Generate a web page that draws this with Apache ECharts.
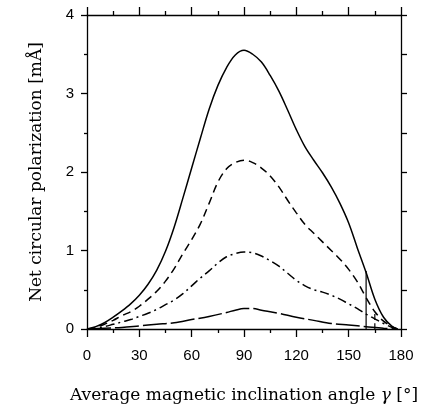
<!DOCTYPE html>
<html>
<head>
<meta charset="utf-8">
<script src="https://cdn.jsdelivr.net/npm/echarts@6/dist/echarts.min.js"></script>
<style>
  html, body { margin: 0; padding: 0; background: #fff; }
  #chart { width: 422px; height: 412px; }
</style>
</head>
<body>
<div id="chart"></div>
<script>
// curves: [angle, polarization]
const strongest = [[0,0],[5,0.03],[10,0.08],[15,0.15],[20,0.23],[25,0.32],[30,0.43],[35,0.57],[40,0.75],[45,0.99],[50,1.3],[55,1.67],[60,2.05],[65,2.43],[70,2.8],[75,3.1],[80,3.33],[85,3.49],[90,3.55],[95,3.5],[100,3.4],[105,3.23],[110,3.03],[115,2.79],[120,2.54],[125,2.32],[130,2.15],[135,1.99],[140,1.81],[145,1.6],[150,1.35],[155,1.03],[160,0.72],[165,0.38],[170,0.15],[175,0.03],[178,0]]
const dashed = [[0,0],[5,0.02],[10,0.06],[15,0.11],[20,0.17],[25,0.22],[30,0.29],[35,0.38],[40,0.48],[45,0.61],[50,0.77],[55,0.96],[60,1.14],[65,1.34],[70,1.6],[75,1.87],[80,2.04],[85,2.12],[90,2.15],[95,2.12],[100,2.05],[105,1.95],[110,1.81],[115,1.64],[120,1.48],[125,1.33],[130,1.22],[135,1.11],[140,1.0],[145,0.89],[150,0.76],[155,0.6],[160,0.4],[165,0.22],[170,0.1],[175,0.03],[178,0]]
const dashDot = [[0,0],[5,0.01],[10,0.03],[15,0.06],[20,0.09],[25,0.12],[30,0.16],[35,0.2],[40,0.25],[45,0.31],[50,0.37],[55,0.45],[60,0.55],[65,0.65],[70,0.74],[75,0.84],[80,0.92],[85,0.96],[90,0.98],[95,0.97],[100,0.93],[105,0.87],[110,0.8],[115,0.71],[120,0.62],[125,0.55],[130,0.5],[135,0.47],[140,0.43],[145,0.38],[150,0.32],[155,0.26],[160,0.19],[165,0.13],[170,0.07],[175,0.02],[178,0]]
const weakest = [[0,0],[10,0.01],[20,0.02],[30,0.04],[40,0.06],[50,0.08],[60,0.12],[70,0.16],[80,0.21],[85,0.24],[90,0.26],[95,0.26],[100,0.24],[110,0.2],[120,0.15],[130,0.11],[140,0.07],[150,0.05],[160,0.03],[170,0.01],[178,0]]
const cutSolid = [[160,0],[160,0.74]]
const cutDashed = [[165,0],[165,0.2]]

const xTicks = [0, 30, 60, 90, 120, 150, 180]
const yTicks = [0, 1, 2, 3, 4]

const chart = echarts.init(document.getElementById('chart'))

function curve(data, type, width) {
  return {
    type: 'line',
    data: data,
    smooth: 0.35,
    showSymbol: false,
    silent: true,
    lineStyle: { color: '#000', width: width, type: type }
  }
}

const black = { color: '#000', width: 1.3 }
const serif = 'DejaVu Serif'

chart.setOption({
  animation: false,
  grid: { left: 87, right: 21, top: 15, bottom: 83 },
  xAxis: [{
    type: 'value',
    min: xTicks[0],
    max: xTicks[xTicks.length - 1],
    interval: 30,
    position: 'bottom',
    name: 'Average magnetic inclination angle {g|γ} [°]',
    nameLocation: 'middle',
    nameGap: 58,
    nameTextStyle: {
      fontFamily: serif, fontSize: 17, color: '#000',
      rich: { g: { fontFamily: serif, fontStyle: 'italic', fontSize: 17, color: '#000' } }
    },
    axisLine: { onZero: false, lineStyle: black },
    axisTick: { length: 8, lineStyle: black },
    minorTick: { show: true, splitNumber: 2, length: 4, lineStyle: black },
    splitLine: { show: false },
    axisLabel: { fontFamily: 'Liberation Sans', fontSize: 15, color: '#000', margin: 19 }
  }, {
    type: 'value',
    min: xTicks[0],
    max: xTicks[xTicks.length - 1],
    interval: 30,
    position: 'top',
    axisLine: { onZero: false, lineStyle: black },
    axisTick: { length: 8, lineStyle: black },
    minorTick: { show: true, splitNumber: 2, length: 4, lineStyle: black },
    splitLine: { show: false },
    axisLabel: { show: false }
  }],
  yAxis: [{
    type: 'value',
    min: yTicks[0],
    max: yTicks[yTicks.length - 1],
    interval: 1,
    position: 'left',
    name: 'Net circular polarization [mÅ]',
    nameLocation: 'middle',
    nameGap: 42,
    nameTextStyle: { fontFamily: serif, fontSize: 17, color: '#000' },
    axisLine: { onZero: false, lineStyle: black },
    axisTick: { length: 6, lineStyle: black },
    minorTick: { show: true, splitNumber: 2, length: 3, lineStyle: black },
    splitLine: { show: false },
    axisLabel: { fontFamily: 'Liberation Sans', fontSize: 15, color: '#000', margin: 13 }
  }, {
    type: 'value',
    min: yTicks[0],
    max: yTicks[yTicks.length - 1],
    interval: 0.5,
    position: 'right',
    axisLine: { onZero: false, lineStyle: black },
    axisTick: { length: 6, lineStyle: black },
    splitLine: { show: false },
    axisLabel: { show: false }
  }],
  series: [
    curve(strongest, 'solid', 1.5),
    curve(dashed, [8, 5], 1.5),
    curve(dashDot, [9, 4, 2, 4], 1.5),
    curve(weakest, [24, 4], 1.5),
    curve(cutSolid, 'solid', 1.2),
    curve(cutDashed, [6, 3], 1.2)
  ]
})
</script>
</body>
</html>
